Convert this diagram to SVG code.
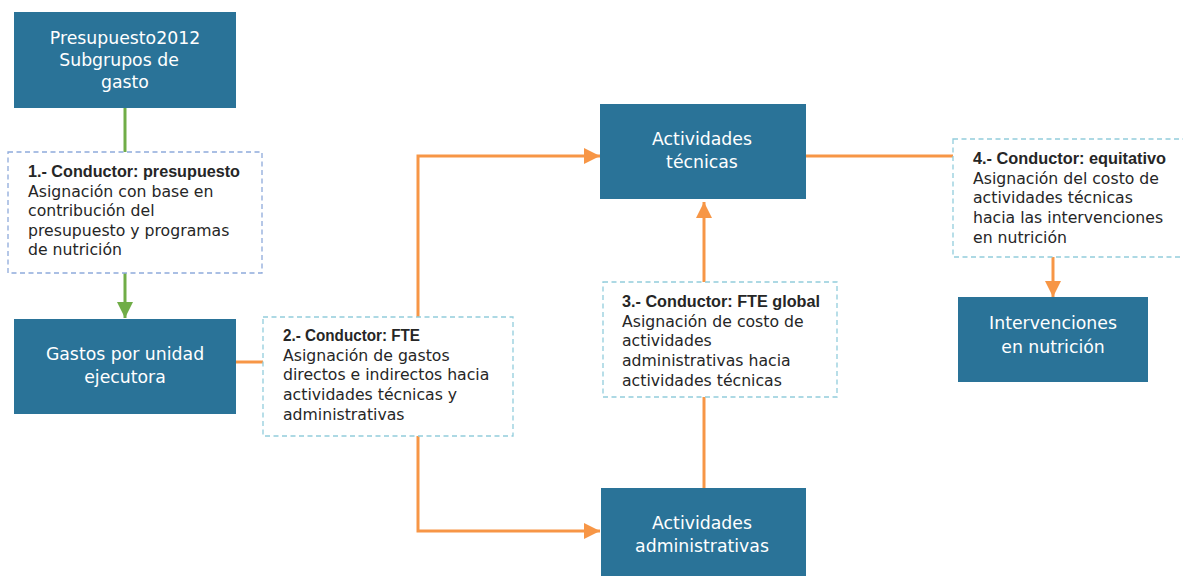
<svg xmlns="http://www.w3.org/2000/svg" width="1183" height="576" viewBox="0 0 1183 576">
<style>
.node{fill:#2a7398}
.nt{fill:#ffffff;font-family:"DejaVu Sans",sans-serif;font-size:17.3px;text-anchor:middle}
.note{fill:#ffffff;stroke-width:1.3;stroke-dasharray:5,3.5}
.n1{stroke:#8eaadb}
.n2{stroke:#92cddc}
.tt{fill:#262626;font-family:"DejaVu Sans",sans-serif;font-size:15.7px}
.b{fill:#262626;font-weight:bold;font-family:"Liberation Sans",Arial,sans-serif;font-size:16px}
.og{stroke:#f79646;stroke-width:3;fill:none}
.gr{stroke:#70ad47;stroke-width:3;fill:none}
</style>
<defs>
<marker id="ao" markerUnits="userSpaceOnUse" markerWidth="16" markerHeight="16" refX="16" refY="8" orient="auto"><path d="M0,0 L16,8 L0,16 Z" fill="#f79646"/></marker>
<marker id="ag" markerUnits="userSpaceOnUse" markerWidth="16" markerHeight="16" refX="16" refY="8" orient="auto"><path d="M0,0 L16,8 L0,16 Z" fill="#70ad47"/></marker>
</defs>
<rect width="1183" height="576" fill="#ffffff"/>
<g id="connectors">
<path class="gr" d="M125,108 V152"/>
<path class="gr" d="M125,273 V318" marker-end="url(#ag)"/>
<path class="og" d="M236,362 H263"/>
<path class="og" d="M418,317 V156 H600" marker-end="url(#ao)"/>
<path class="og" d="M418,436 V531 H600" marker-end="url(#ao)"/>
<path class="og" d="M704,488 V397"/>
<path class="og" d="M704,282 V202" marker-end="url(#ao)"/>
<path class="og" d="M806,156 H953"/>
<path class="og" d="M1053,257 V297" marker-end="url(#ao)"/>
</g>
<g id="presupuesto">
<rect class="node" x="14" y="12" width="222" height="96"/>
<text class="nt" x="125" y="44">Presupuesto2012</text>
<text class="nt" x="119" y="66">Subgrupos de</text>
<text class="nt" x="125" y="88">gasto</text>
</g>
<g id="conductor1">
<rect class="note n1" x="8" y="152" width="254" height="121"/>
<text class="b" x="28" y="177" textLength="212" lengthAdjust="spacingAndGlyphs">1.- Conductor: presupuesto</text>
<text class="tt" x="28" y="196.5"><tspan>Asignación con base en</tspan><tspan x="28" dy="19.5">contribución del</tspan><tspan x="28" dy="19.5">presupuesto y programas</tspan><tspan x="28" dy="19.5">de nutrición</tspan></text>
</g>
<g id="gastos">
<rect class="node" x="14" y="319" width="222" height="95"/>
<text class="nt" x="125" y="360">Gastos por unidad</text>
<text class="nt" x="125" y="383">ejecutora</text>
</g>
<g id="conductor2">
<rect class="note n2" x="263" y="317" width="250" height="119"/>
<text class="b" x="283" y="341" textLength="137" lengthAdjust="spacingAndGlyphs">2.- Conductor: FTE</text>
<text class="tt" x="283" y="360.7"><tspan>Asignación de gastos</tspan><tspan x="283" dy="19.7">directos e indirectos hacia</tspan><tspan x="283" dy="19.7">actividades técnicas y</tspan><tspan x="283" dy="19.7">administrativas</tspan></text>
</g>
<g id="tecnicas">
<rect class="node" x="600" y="104" width="206" height="95"/>
<text class="nt" x="702" y="145">Actividades</text>
<text class="nt" x="702" y="168">técnicas</text>
</g>
<g id="conductor3">
<rect class="note n2" x="603" y="282" width="234" height="115"/>
<text class="b" x="622" y="307" textLength="198" lengthAdjust="spacingAndGlyphs">3.- Conductor: FTE global</text>
<text class="tt" x="622" y="326.7"><tspan>Asignación de costo de</tspan><tspan x="622" dy="19.7">actividades</tspan><tspan x="622" dy="19.7">administrativas hacia</tspan><tspan x="622" dy="19.7">actividades técnicas</tspan></text>
</g>
<g id="administrativas">
<rect class="node" x="601" y="488" width="205" height="95"/>
<text class="nt" x="702" y="529">Actividades</text>
<text class="nt" x="702" y="552">administrativas</text>
</g>
<g id="conductor4">
<rect class="note n2" x="953" y="139" width="250" height="118"/>
<text class="b" x="973" y="164" textLength="193" lengthAdjust="spacingAndGlyphs">4.- Conductor: equitativo</text>
<text class="tt" x="973" y="183.7"><tspan>Asignación del costo de</tspan><tspan x="973" dy="19.7">actividades técnicas</tspan><tspan x="973" dy="19.7">hacia las intervenciones</tspan><tspan x="973" dy="19.7">en nutrición</tspan></text>
</g>
<g id="intervenciones">
<rect class="node" x="958" y="297" width="190" height="85"/>
<text class="nt" x="1053" y="329">Intervenciones</text>
<text class="nt" x="1053" y="353">en nutrición</text>
</g>
</svg>
